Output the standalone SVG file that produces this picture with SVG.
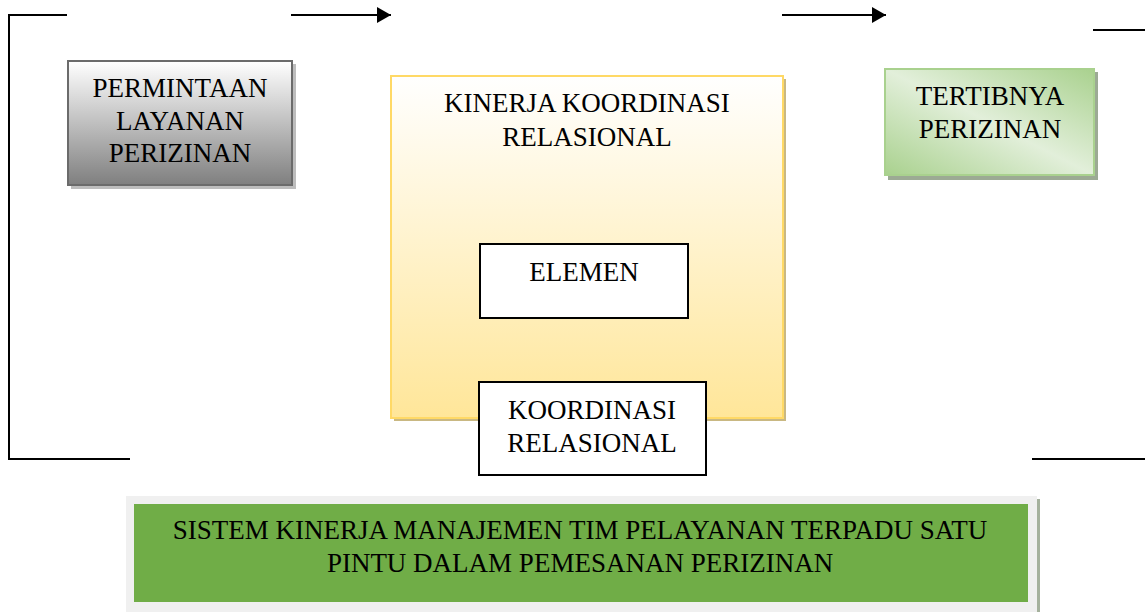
<svg xmlns="http://www.w3.org/2000/svg" width="1145" height="612" viewBox="0 0 1145 612">
<defs>
<linearGradient id="gGray" x1="0" y1="0" x2="0" y2="1">
<stop offset="0" stop-color="#ffffff"/>
<stop offset="0.3" stop-color="#d9d9d9"/>
<stop offset="1" stop-color="#7f7f7f"/>
</linearGradient>
<linearGradient id="gYellow" x1="0" y1="0" x2="0" y2="1">
<stop offset="0" stop-color="#ffffff"/>
<stop offset="1" stop-color="#ffe699"/>
</linearGradient>
<linearGradient id="gGreen" x1="0" y1="1" x2="1" y2="0">
<stop offset="0" stop-color="#a9d18e"/>
<stop offset="0.5" stop-color="#e2efda"/>
<stop offset="1" stop-color="#a9d18e"/>
</linearGradient>
<marker id="arrBig" viewBox="0 0 14 16" refX="14" refY="8" markerWidth="14" markerHeight="16" markerUnits="userSpaceOnUse" orient="auto">
<path d="M0,0 L14,8 L0,16 Z" fill="#000"/>
</marker>
</defs>
<style>
text{font-family:"Liberation Serif","Times New Roman",serif;font-size:27px;fill:#000;text-anchor:middle}
.ln{stroke:#000;stroke-width:2;fill:none}
</style>
<g id="connectors">
<polyline class="ln" points="67,15 9,15 9,459 130,459"/>
<line class="ln" x1="291" y1="15" x2="391" y2="15" marker-end="url(#arrBig)"/>
<line class="ln" x1="782" y1="15" x2="886" y2="15" marker-end="url(#arrBig)"/>
<line class="ln" x1="1093" y1="30" x2="1145" y2="30"/>
<line class="ln" x1="1032" y1="459" x2="1145" y2="459"/>
</g>
<g id="node-permintaan">
<rect x="71" y="64" width="225" height="125" fill="#bdbdbd"/>
<rect x="68" y="61" width="224" height="124" fill="url(#gGray)" stroke="#6b6b6b" stroke-width="2"/>
<text x="180" y="97">PERMINTAAN</text>
<text x="180" y="130">LAYANAN</text>
<text x="180" y="162">PERIZINAN</text>
</g>
<g id="node-kinerja">
<rect x="394" y="79" width="392" height="342" fill="#c9b882"/>
<rect x="391" y="76" width="392" height="342" fill="url(#gYellow)" stroke="#ffd966" stroke-width="2"/>
<text x="587" y="112">KINERJA KOORDINASI</text>
<text x="587" y="146">RELASIONAL</text>
</g>
<g id="node-elemen">
<rect x="480" y="244" width="208" height="74" fill="#fff" stroke="#000" stroke-width="2"/>
<text x="584" y="281">ELEMEN</text>
</g>
<g id="node-koordinasi">
<rect x="479" y="382" width="227" height="93" fill="#fff" stroke="#000" stroke-width="2"/>
<text x="592" y="419">KOORDINASI</text>
<text x="592" y="452">RELASIONAL</text>
</g>
<g id="node-tertibnya">
<rect x="888" y="72" width="210" height="108" fill="#9caa94"/>
<rect x="885" y="69" width="209" height="106" fill="url(#gGreen)" stroke="#a9d18e" stroke-width="2"/>
<text x="990" y="105">TERTIBNYA</text>
<text x="990" y="138">PERIZINAN</text>
</g>
<g id="node-sistem">
<rect x="129" y="499" width="911" height="116" fill="#a5b19d"/>
<rect x="126" y="496" width="911" height="116" fill="#f0f0f0"/>
<rect x="134" y="504" width="894" height="98" fill="#70ad47"/>
<text x="580" y="539">SISTEM KINERJA MANAJEMEN TIM PELAYANAN TERPADU SATU</text>
<text x="580" y="572">PINTU DALAM PEMESANAN PERIZINAN</text>
</g>
</svg>
